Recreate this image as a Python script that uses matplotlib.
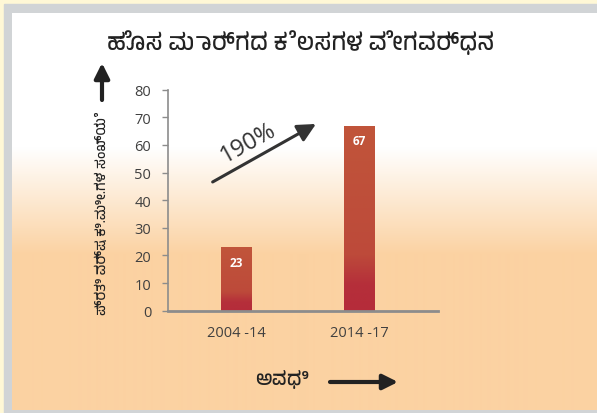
import numpy as np
import matplotlib
matplotlib.use('Agg')
import matplotlib.pyplot as plt
import matplotlib.font_manager as fm
from matplotlib.colors import LinearSegmentedColormap, to_rgb

# ----------------- DATA -----------------
periods = ['2004 -14', '2014 -17']
km_per_year = [23, 67]
growth_label = '190%'
title = 'ಹೊಸ ಮಾರ್ಗದ ಕೆಲಸಗಳ ವೇಗವರ್ಧನ'
ylabel = 'ಪ್ರತಿ ವರ್ಷ ಕಿ.ಮೀ.ಗಳ ಸಂಖ್ಯೆ'
xlabel = 'ಅವಧಿ'
yticks = [0, 10, 20, 30, 40, 50, 60, 70, 80]

# Kannada font if there is one, else fall back
kn_fonts = sorted({f.name for f in fm.fontManager.ttflist if 'Kannada' in f.name})
kn_family = kn_fonts + ['DejaVu Sans']

W, H = 597, 414
fig = plt.figure(figsize=(W / 100, H / 100), dpi=100)

# ----------------- BACKGROUND (pixel coords) -----------------
bg = fig.add_axes([0, 0, 1, 1], zorder=-5)
bg.add_patch(plt.Rectangle((0, 0), W, H, color='#fff8d6', zorder=0))
bg.add_patch(plt.Rectangle((4, 5), W, H, color='#d1d4d6', zorder=1))

white = np.array(to_rgb('#ffffff'))
peach = np.array(to_rgb('#fbd2a2'))
rows = np.arange(14, 411)
t = np.clip((rows - 148) / (255 - 148), 0, 1)[:, None]
grad = white * (1 - t) + peach * t
bg.imshow(grad[:, None, :], extent=(12, W, 411, 14), aspect='auto',
          interpolation='bilinear', zorder=2)
bg.set_xlim(0, W)
bg.set_ylim(H, 0)
bg.axis('off')

# ----------------- MAIN AXES -----------------
ax = fig.add_axes([168 / W, (H - 311.7) / H, (438 - 168) / W, (311.7 - 90.7) / H])
ax.patch.set_alpha(0)
x = np.arange(len(periods))
bars = ax.bar(x, km_per_year, width=0.245, color='none', zorder=3)

bar_cmap = LinearSegmentedColormap.from_list(
    'bar', [(0, '#b52c3a'), (0.14, '#b52f3a'), (0.3, '#bd4a3a'), (1, '#c1553a')])
for b in bars:
    x0, y0, w, h = b.get_x(), b.get_y(), b.get_width(), b.get_height()
    img = ax.imshow(np.linspace(1, 0, 200)[:, None], cmap=bar_cmap, aspect='auto',
                    extent=(x0, x0 + w, y0, y0 + h), zorder=3, interpolation='bilinear')
    img.set_clip_path(b)
    ax.annotate(f'{int(h)}', (x0 + w / 2, h), xytext=(0, -11), textcoords='offset points',
                ha='center', va='center', color='white', fontsize=8.5, fontweight='bold',
                family='Open Sans', zorder=4)

ax.set_xlim(-0.553, 1.642)
ax.set_ylim(0, 80)
ax.set_yticks(yticks)
ax.set_xticks(x)
ax.set_xticklabels(periods)
for s in ['top', 'right']:
    ax.spines[s].set_visible(False)
ax.spines['left'].set_color('#8c8c8c')
ax.spines['left'].set_linewidth(1.2)
ax.spines['bottom'].set_color('#8c8c8c')
ax.spines['bottom'].set_linewidth(2)
ax.spines['bottom'].set_zorder(5)
ax.tick_params(axis='y', length=4, width=1, color='#8c8c8c', pad=8,
               labelsize=10.5, labelcolor='#404040')
ax.tick_params(axis='x', length=0, pad=10, labelsize=10.5, labelcolor='#404040')
for lab in ax.get_xticklabels() + ax.get_yticklabels():
    lab.set_family('Open Sans')

# growth arrow and label
ax.annotate('', xy=(0.65, 67.6), xytext=(-0.19, 46.6),
            arrowprops=dict(arrowstyle='-|>,head_length=1.1,head_width=0.55',
                            color='#333333', lw=2.2, shrinkA=0, shrinkB=0), zorder=4)
ax.text(0.10, 61.0, growth_label, rotation=29, ha='center', va='center',
        fontsize=17, color='#333333', family='Open Sans')

# ----------------- TEXTS & AXIS ARROWS -----------------
bg.text(301, 43, title, ha='center', va='center', fontsize=17, fontweight='bold',
        color='#222222', family=kn_family)
bg.text(102, 213, ylabel, ha='center', va='center', rotation=90, fontsize=10,
        fontweight='bold', color='#222222', family=kn_family)
bg.text(282, 380, xlabel, ha='center', va='center', fontsize=14, fontweight='bold',
        color='#222222', family=kn_family)

bg.annotate('', xy=(102, 64), xytext=(102, 101),
            arrowprops=dict(arrowstyle='-|>,head_length=0.9,head_width=0.45',
                            color='#222222', lw=3, shrinkA=0, shrinkB=0))
bg.annotate('', xy=(398, 383), xytext=(330, 383),
            arrowprops=dict(arrowstyle='-|>,head_length=0.9,head_width=0.45',
                            color='#222222', lw=3, shrinkA=0, shrinkB=0))

fig.savefig('out.png', dpi=100)
